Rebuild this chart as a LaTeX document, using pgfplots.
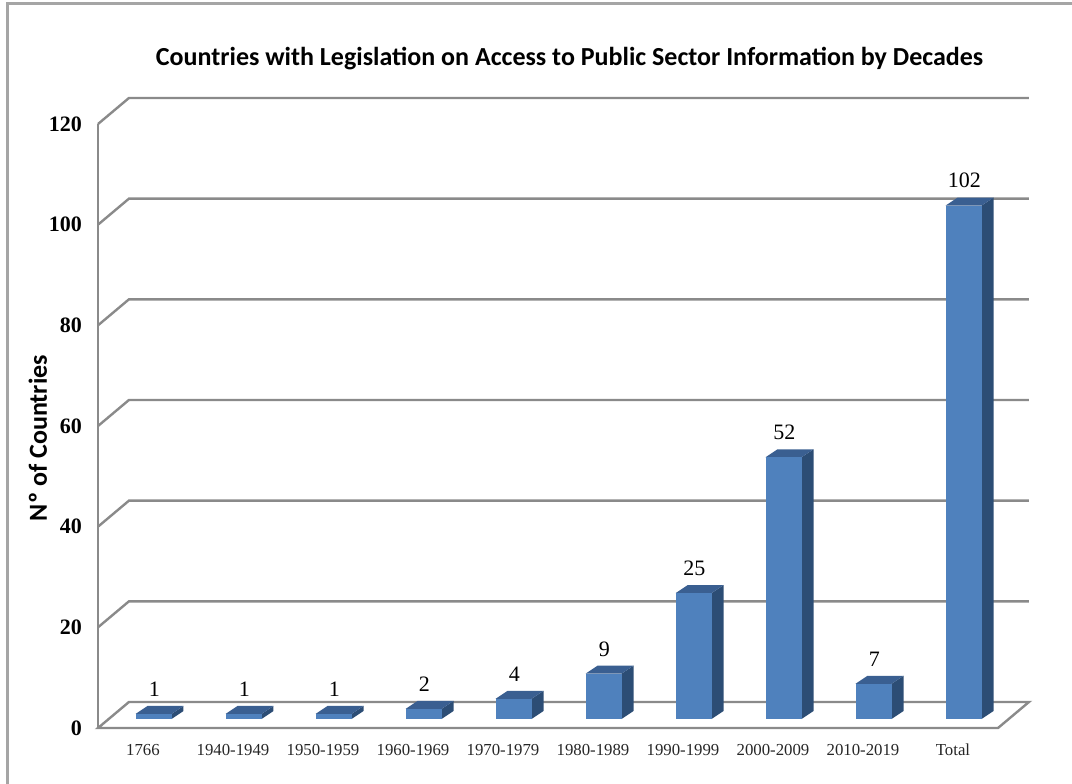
\documentclass[border=0pt]{standalone}
\usepackage{pgfplots}
\pgfplotsset{compat=1.18}
\usepackage{pgfplotstable}
\usepackage{fontspec}
\setmainfont{Liberation Serif}
\newfontfamily\calibri{Carlito}

\definecolor{barfront}{RGB}{79,129,189}
\definecolor{barside}{RGB}{44,77,117}
\definecolor{bartop}{RGB}{58,95,145}
\definecolor{gridgray}{RGB}{138,138,138}
\definecolor{framegray}{RGB}{165,165,165}

\pgfplotstableread{
x v
0 1
1 1
2 1
3 2
4 4
5 9
6 25
7 52
8 7
9 102
}\datatable

\begin{document}
\begin{tikzpicture}
\useasboundingbox (0,0) rectangle (536pt,-391.5pt);
\draw[line width=1.5pt, framegray] (3.5pt,-395pt) -- (3.5pt,-1.5pt) -- (540pt,-1.5pt);
\begin{axis}[
  at={(49pt,-364pt)}, anchor=south west,
  scale only axis, width=450pt, height=302pt,
  xmin=-0.5, xmax=9.5, ymin=0, ymax=120,
  clip=false,
  axis line style={draw=none},
  major tick length=0pt,
  /pgf/number format/assume math mode=true,
  xtick={0,...,9},
  xticklabels={1766,1940-1949,1950-1959,1960-1969,1970-1979,1980-1989,1990-1999,2000-2009,2010-2019,Total},
  ytick={0,20,...,120},
  xticklabel style={font=\fontsize{8.4}{10}\selectfont, yshift=-4.5pt, text=black!85},
  yticklabel style={font=\fontsize{11}{13}\selectfont\bfseries, xshift=-4.5pt},
  every axis title shift=0pt,
  title={\calibri\bfseries\fontsize{13}{15}\selectfont Countries with Legislation on Access to Public Sector Information by Decades},
  title style={at={(axis description cs:0.524,1.109)}, anchor=center},
  ylabel={\calibri\bfseries\fontsize{13}{15}\selectfont Nº of Countries},
  ylabel style={at={(axis description cs:-0.0667,0.48)}, anchor=center, rotate=0},
]
% back wall gridlines, front edge and floor
\draw[gridgray, line width=1.2pt] (axis cs:-0.5,120) -- (axis cs:-0.156,125.17) -- (axis cs:9.844,125.17);
\draw[gridgray, line width=1.2pt] (axis cs:-0.5,100) -- (axis cs:-0.156,105.17) -- (axis cs:9.844,105.17);
\draw[gridgray, line width=1.2pt] (axis cs:-0.5,80) -- (axis cs:-0.156,85.17) -- (axis cs:9.844,85.17);
\draw[gridgray, line width=1.2pt] (axis cs:-0.5,60) -- (axis cs:-0.156,65.17) -- (axis cs:9.844,65.17);
\draw[gridgray, line width=1.2pt] (axis cs:-0.5,40) -- (axis cs:-0.156,45.17) -- (axis cs:9.844,45.17);
\draw[gridgray, line width=1.2pt] (axis cs:-0.5,20) -- (axis cs:-0.156,25.17) -- (axis cs:9.844,25.17);
\draw[gridgray, line width=1.2pt] (axis cs:-0.5,120) -- (axis cs:-0.5,0);
\draw[gridgray, line width=1.2pt] (axis cs:-0.5,0) -- (axis cs:9.5,0) -- (axis cs:9.844,5.17) -- (axis cs:-0.156,5.17) -- cycle;

% 3D bars
\pgfplotsinvokeforeach{0,...,9}{
  \pgfplotstablegetelem{#1}{v}\of\datatable
  \pgfmathsetmacro\xa{#1-0.083}
  \pgfmathsetmacro\xb{#1+0.317}
  \pgfmathsetmacro\xc{#1+0.45}
  \pgfmathsetmacro\xd{#1+0.05}
  \pgfmathsetmacro\yb{\pgfplotsretval+1.79}
  \pgfmathsetmacro\yc{\pgfplotsretval+3.38}
  \edef\temp{%
    \noexpand\addplot[draw=none, fill=barside, forget plot] coordinates {(\xb,1.79) (\xc,3.38) (\xc,\yc) (\xb,\yb)};
    \noexpand\addplot[draw=none, fill=bartop, forget plot] coordinates {(\xa,\yb) (\xb,\yb) (\xc,\yc) (\xd,\yc)};
    \noexpand\addplot[draw=none, fill=barfront, forget plot] coordinates {(\xa,1.79) (\xb,1.79) (\xb,\yb) (\xa,\yb)};
  }%
  \temp
}

% value labels
\addplot[draw=none, mark=none, nodes near coords, point meta=explicit symbolic,
  nodes near coords style={anchor=south, inner sep=0pt, yshift=4.5pt, font=\fontsize{11}{13}\selectfont}]
  table[x expr=\thisrow{x}+0.127, y expr=\thisrow{v}+3.38, meta=v]{\datatable};
\end{axis}
\end{tikzpicture}
\end{document}
